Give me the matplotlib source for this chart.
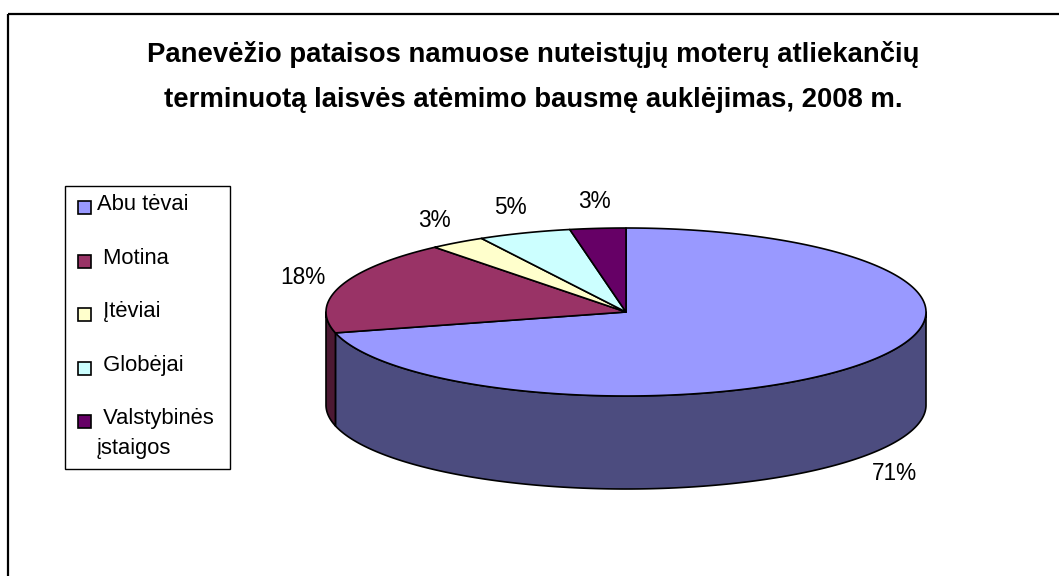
import numpy as np
import matplotlib.pyplot as plt
from matplotlib.patches import Polygon, Rectangle

# data
labels = ['Abu tėvai', ' Motina', ' Įtėviai', ' Globėjai', ' Valstybinės\nįstaigos']
values = [71, 18, 3, 5, 3]
top_colors = ['#9999FF', '#993366', '#FFFFCC', '#CCFFFF', '#660066']
side_colors = ['#4C4C7F', '#4C1933', '#7F7F66', '#667F7F', '#330033']
title = ('Panevėžio pataisos namuose nuteistųjų moterų atliekančių\n'
         'terminuotą laisvės atėmimo bausmę auklėjimas, 2008 m.')

plt.rcParams['font.family'] = ['Liberation Sans', 'DejaVu Sans']

fig = plt.figure(figsize=(10.59, 5.76), dpi=100)
ax = fig.add_axes([0, 0, 1, 1])
ax.set_xlim(0, 1059)
ax.set_ylim(576, 0)
ax.axis('off')

# outer frame
ax.add_patch(Rectangle((8, 14), 1100, 600, fill=False, edgecolor='black', lw=1.6))

ax.text(533, 77, title, ha='center', va='center', fontsize=19.8,
        fontweight='bold', linespacing=1.95)

# pie geometry (pixels)
cx, cy, a, b, depth = 626, 312, 300, 84, 93


def pt(theta, dy=0.0):
    t = np.radians(theta)
    return cx + a * np.sin(t), cy - b * np.cos(t) + dy


def arc(t1, t2, dy=0.0):
    ts = np.linspace(t1, t2, max(int(abs(t2 - t1) * 2), 2))
    return [pt(t, dy) for t in ts]


total = float(sum(values))
angles = np.cumsum([0] + [v / total * 360 for v in values])

# side walls (front half only, 90..270 deg clockwise from top)
for i in range(len(values)):
    t1, t2 = max(angles[i], 90), min(angles[i + 1], 270)
    if t2 <= t1:
        continue
    poly = arc(t1, t2) + arc(t1, t2, depth)[::-1]
    ax.add_patch(Polygon(poly, closed=True, facecolor=side_colors[i],
                         edgecolor='black', lw=1.2, joinstyle='round'))

# top face
for i in range(len(values)):
    poly = [(cx, cy)] + arc(angles[i], angles[i + 1])
    ax.add_patch(Polygon(poly, closed=True, facecolor=top_colors[i],
                         edgecolor='black', lw=1.2, joinstyle='round'))

# percentage labels
for i, v in enumerate(values):
    mid = np.radians((angles[i] + angles[i + 1]) / 2)
    x = cx + (a + 40) * np.sin(mid)
    y = cy - (b + 27) * np.cos(mid)
    if np.cos(mid) < 0:
        y += depth
    ax.text(x, y, f'{v / total:.0%}', ha='center', va='center', fontsize=16.3)

# legend
ax.add_patch(Rectangle((65, 186), 165, 283, fill=False, edgecolor='black', lw=1.0))
for i, lab in enumerate(labels):
    ty = 203 + i * 53.5
    ax.add_patch(Rectangle((78, ty - 2), 13, 13, facecolor=top_colors[i],
                           edgecolor='black', lw=1.2))
    ax.text(97, ty - 9, lab, ha='left', va='top', fontsize=15.8, linespacing=1.55)

fig.savefig('out.png', dpi=100)
